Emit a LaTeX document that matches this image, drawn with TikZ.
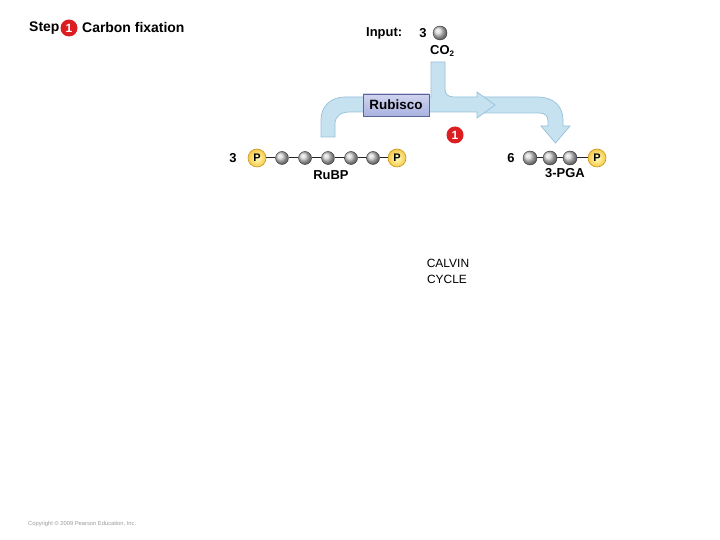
\documentclass[tikz,border=0pt]{standalone}
\usepackage{fontspec}
\setmainfont{Liberation Sans}
\definecolor{bandfill}{RGB}{198,226,240}
\definecolor{bandline}{RGB}{150,192,218}
\definecolor{rubfill}{RGB}{170,178,224}
\definecolor{rubline}{RGB}{90,100,150}
\definecolor{stepred}{RGB}{220,30,35}
\definecolor{pyellow}{RGB}{246,200,70}
\definecolor{pline}{RGB}{200,150,30}
\tikzset{
 lbl/.style={font=\fontsize{13}{15}\selectfont\bfseries, inner sep=0pt},
 head/.style={font=\fontsize{14}{16}\selectfont\bfseries, inner sep=0pt},
 small/.style={font=\fontsize{12}{14}\selectfont, inner sep=0pt},
 carbon/.style={circle, minimum size=13bp, inner sep=0pt, shading=ball, ball color=gray!35, draw=gray!40!black, line width=0.4bp},
 phos/.style={circle, minimum size=18bp, inner sep=0pt, shading=radial, inner color=yellow!25, outer color=pyellow, draw=pline, line width=0.6bp, font=\fontsize{11}{12}\selectfont\bfseries},
 stepnum/.style={circle, fill=stepred, minimum size=17bp, inner sep=0pt, text=white, font=\fontsize{12}{13}\selectfont\bfseries},
 bond/.style={draw=gray!30!black, line width=1bp},
 band/.style={fill=bandfill, draw=bandline, line width=0.7bp},
}
\begin{document}
\begin{tikzpicture}[x=1bp,y=-1bp]
\useasboundingbox (0,0) rectangle (720,540);
% right band with down arrow
\path[band] (482,97) -- (538,97) .. controls (553,97) and (563,106) .. (563,120) -- (563,126) -- (570,126) -- (555.5,143) -- (541,126) -- (548,126) -- (548,121) .. controls (548,116) and (545,113) .. (539,113) -- (482,113) -- cycle;
% main band with CO2 stem and first arrow head
\path[band] (321,137) -- (321,120) .. controls (321,106) and (331,97) .. (345,97) -- (431,97) -- (431,62) -- (445,62) -- (445,89) .. controls (445,94) and (448,97) .. (454,97) -- (477,97) -- (477,92) -- (495,105) -- (477,118) -- (477,112) -- (350,112) .. controls (341,112) and (335,116) .. (335,124) -- (335,137) -- cycle;
\node[draw=rubline, line width=0.7bp, top color=rubfill!55!white, bottom color=rubfill, minimum width=66bp, minimum height=22bp, inner sep=0pt, font=\fontsize{13.5}{15}\selectfont\bfseries] (rub) at (396,105) {Rubisco};
% header
\node[head, anchor=west] (step) at (29,28) {Step};
\node[stepnum] (s1) at (69,28) {1};
\node[head, anchor=west] (cf) at (82,28) {Carbon fixation};
% input
\node[lbl, anchor=west] (inp) at (366,33) {Input:};
\node[lbl] (n3a) at (423,33) {3};
\node[carbon, minimum size=14bp] (co2b) at (440,33) {};
\node[lbl, anchor=west] (co2) at (430,51) {CO\textsubscript{\fontsize{8}{9}\selectfont 2}};
\node[stepnum] (s1b) at (455,135) {1};
% RuBP chain
\node[lbl] (n3) at (233,158) {3};
\node[phos] (p1) at (257,158) {P};
\node[carbon] (c1) at (282,158) {};
\node[carbon] (c2) at (305,158) {};
\node[carbon] (c3) at (328,158) {};
\node[carbon] (c4) at (351,158) {};
\node[carbon] (c5) at (373,158) {};
\node[phos] (p2) at (397,158) {P};
\draw[bond] (p1) -- (c1) (c1) -- (c2) (c2) -- (c3) (c3) -- (c4) (c4) -- (c5) (c5) -- (p2);
\node[lbl] (rubp) at (331,175) {RuBP};
% 3-PGA chain
\node[lbl] (n6) at (511,158) {6};
\node[carbon, minimum size=14bp] (d1) at (530,158) {};
\node[carbon, minimum size=14bp] (d2) at (550,158) {};
\node[carbon, minimum size=14bp] (d3) at (570,158) {};
\node[phos] (p3) at (597,158) {P};
\draw[bond] (d1) -- (d2) (d2) -- (d3) (d3) -- (p3);
\node[lbl] (pga) at (565,173) {3-PGA};
% Calvin cycle
\node[small] (cal) at (448,263) {CALVIN};
\node[small] (cyc) at (447,279) {CYCLE};
% copyright
\node[font=\fontsize{5.8}{7}\selectfont, text=gray!80, anchor=west, inner sep=0pt] (copy) at (28,524) {Copyright © 2009 Pearson Education, Inc.};
\end{tikzpicture}
\end{document}
